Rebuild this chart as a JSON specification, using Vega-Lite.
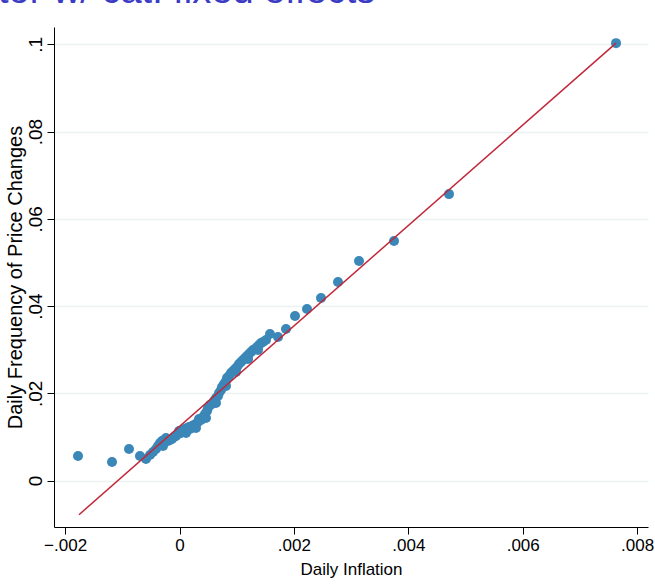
{
  "$schema": "https://vega.github.io/schema/vega-lite/v6.json",
  "width": 594,
  "height": 500,
  "autosize": {"type": "none"},
  "padding": {"left": 54, "top": 27, "right": 7, "bottom": 58},
  "background": "white",
  "title": {
    "text": "tor w/ cat. fixed effects",
    "anchor": "start",
    "frame": "group",
    "dx": -56,
    "dy": 22,
    "offset": 0,
    "fontSize": 38,
    "font": "Liberation Sans",
    "fontWeight": "normal",
    "color": "#3b3bc4",
    "baseline": "bottom"
  },
  "config": {
    "view": {"stroke": null},
    "font": "Liberation Sans",
    "axis": {
      "domainColor": "#000000",
      "domainWidth": 1,
      "tickColor": "#000000",
      "tickWidth": 1,
      "tickSize": 7,
      "labelColor": "#000000",
      "titleColor": "#000000",
      "labelFontSize": 16,
      "titleFontSize": 16,
      "titleFontWeight": "normal",
      "labelFont": "Liberation Sans",
      "titleFont": "Liberation Sans"
    }
  },
  "datasets": {
    "pts": [
      {"inflation": -0.001774, "freq": 0.005617},
      {"inflation": -0.001180, "freq": 0.004241},
      {"inflation": -0.000883, "freq": 0.007221},
      {"inflation": -0.000691, "freq": 0.005617},
      {"inflation": -0.000586, "freq": 0.004929},
      {"inflation": -0.000516, "freq": 0.005846},
      {"inflation": -0.000463, "freq": 0.006534},
      {"inflation": -0.000411, "freq": 0.007221},
      {"inflation": -0.000376, "freq": 0.007909},
      {"inflation": -0.000341, "freq": 0.008597},
      {"inflation": -0.000306, "freq": 0.009056},
      {"inflation": -0.000288, "freq": 0.007909},
      {"inflation": -0.000271, "freq": 0.009285},
      {"inflation": -0.000236, "freq": 0.009743},
      {"inflation": -0.000201, "freq": 0.009056},
      {"inflation": -0.000166, "freq": 0.009285},
      {"inflation": -0.000131, "freq": 0.009514},
      {"inflation": -0.000096, "freq": 0.009973},
      {"inflation": -0.000061, "freq": 0.010202},
      {"inflation": -0.000026, "freq": 0.010660},
      {"inflation": -0.000009, "freq": 0.011348},
      {"inflation": 0.000026, "freq": 0.010890},
      {"inflation": 0.000061, "freq": 0.011577},
      {"inflation": 0.000096, "freq": 0.011806},
      {"inflation": 0.000114, "freq": 0.010890},
      {"inflation": 0.000131, "freq": 0.012036},
      {"inflation": 0.000166, "freq": 0.012265},
      {"inflation": 0.000184, "freq": 0.011806},
      {"inflation": 0.000219, "freq": 0.012494},
      {"inflation": 0.000253, "freq": 0.012724},
      {"inflation": 0.000288, "freq": 0.012953},
      {"inflation": 0.000288, "freq": 0.012036},
      {"inflation": 0.000323, "freq": 0.013411},
      {"inflation": 0.000341, "freq": 0.014099},
      {"inflation": 0.000376, "freq": 0.013870},
      {"inflation": 0.000411, "freq": 0.014558},
      {"inflation": 0.000446, "freq": 0.015245},
      {"inflation": 0.000463, "freq": 0.014328},
      {"inflation": 0.000481, "freq": 0.015933},
      {"inflation": 0.000498, "freq": 0.016621},
      {"inflation": 0.000533, "freq": 0.017309},
      {"inflation": 0.000568, "freq": 0.017538},
      {"inflation": 0.000603, "freq": 0.018226},
      {"inflation": 0.000638, "freq": 0.018913},
      {"inflation": 0.000638, "freq": 0.017767},
      {"inflation": 0.000673, "freq": 0.019372},
      {"inflation": 0.000691, "freq": 0.020060},
      {"inflation": 0.000726, "freq": 0.020747},
      {"inflation": 0.000743, "freq": 0.021435},
      {"inflation": 0.000778, "freq": 0.022123},
      {"inflation": 0.000813, "freq": 0.022811},
      {"inflation": 0.000813, "freq": 0.021664},
      {"inflation": 0.000830, "freq": 0.023498},
      {"inflation": 0.000865, "freq": 0.023957},
      {"inflation": 0.000900, "freq": 0.024645},
      {"inflation": 0.000935, "freq": 0.025103},
      {"inflation": 0.000970, "freq": 0.025562},
      {"inflation": 0.000988, "freq": 0.024874},
      {"inflation": 0.001005, "freq": 0.026020},
      {"inflation": 0.001040, "freq": 0.026708},
      {"inflation": 0.001075, "freq": 0.027166},
      {"inflation": 0.001110, "freq": 0.027625},
      {"inflation": 0.001145, "freq": 0.028083},
      {"inflation": 0.001180, "freq": 0.028542},
      {"inflation": 0.001198, "freq": 0.027854},
      {"inflation": 0.001215, "freq": 0.029000},
      {"inflation": 0.001250, "freq": 0.029459},
      {"inflation": 0.001285, "freq": 0.029918},
      {"inflation": 0.001320, "freq": 0.030147},
      {"inflation": 0.001355, "freq": 0.030605},
      {"inflation": 0.001372, "freq": 0.029918},
      {"inflation": 0.001390, "freq": 0.031064},
      {"inflation": 0.001425, "freq": 0.031522},
      {"inflation": 0.001460, "freq": 0.031752},
      {"inflation": 0.001512, "freq": 0.032210},
      {"inflation": 0.001582, "freq": 0.033586},
      {"inflation": 0.001722, "freq": 0.032898},
      {"inflation": 0.001862, "freq": 0.034732},
      {"inflation": 0.002019, "freq": 0.037712},
      {"inflation": 0.002229, "freq": 0.039317},
      {"inflation": 0.002474, "freq": 0.041839},
      {"inflation": 0.002771, "freq": 0.045507},
      {"inflation": 0.003138, "freq": 0.050321},
      {"inflation": 0.003750, "freq": 0.054906},
      {"inflation": 0.004711, "freq": 0.065681},
      {"inflation": 0.007631, "freq": 0.100298}
    ],
    "fit": [
      {"inflation": -0.001757, "freq": -0.00784},
      {"inflation": 0.007631, "freq": 0.1003}
    ]
  },
  "layer": [
    {
      "data": {"name": "pts"},
      "mark": {"type": "point", "filled": true, "shape": "circle", "size": 100, "opacity": 1, "color": "#3a87b8"},
      "encoding": {
        "x": {
          "field": "inflation",
          "type": "quantitative",
          "scale": {"domain": [-0.002194, 0.00819], "nice": false, "zero": false},
          "axis": {
            "title": "Daily Inflation",
            "values": [-0.002, 0, 0.002, 0.004, 0.006, 0.008],
            "labelExpr": "datum.value == 0 ? '0' : replace(format(datum.value, '.3~f'), '0.', '.')",
            "grid": false,
            "labelFontSize": 17,
            "titleFontSize": 17,
            "labelPadding": 3,
            "titlePadding": 8
          }
        },
        "y": {
          "field": "freq",
          "type": "quantitative",
          "scale": {"domain": [-0.01066, 0.104], "nice": false, "zero": false},
          "axis": {
            "title": "Daily Frequency of Price Changes",
            "values": [0, 0.02, 0.04, 0.06, 0.08, 0.1],
            "labelExpr": "datum.value == 0 ? '0' : replace(format(datum.value, '.2~f'), '0.', '.')",
            "labelAngle": -90,
            "labelAlign": "center",
            "labelBaseline": "bottom",
            "labelFontSize": 19,
            "titleFontSize": 20,
            "labelPadding": 2,
            "grid": true,
            "gridColor": "#eaf2f3",
            "gridWidth": 1.5,
            "titlePadding": 1
          }
        }
      }
    },
    {
      "data": {"name": "fit"},
      "mark": {"type": "line", "color": "#c1283a", "strokeWidth": 1.5},
      "encoding": {
        "x": {"field": "inflation", "type": "quantitative"},
        "y": {"field": "freq", "type": "quantitative"}
      }
    }
  ]
}
